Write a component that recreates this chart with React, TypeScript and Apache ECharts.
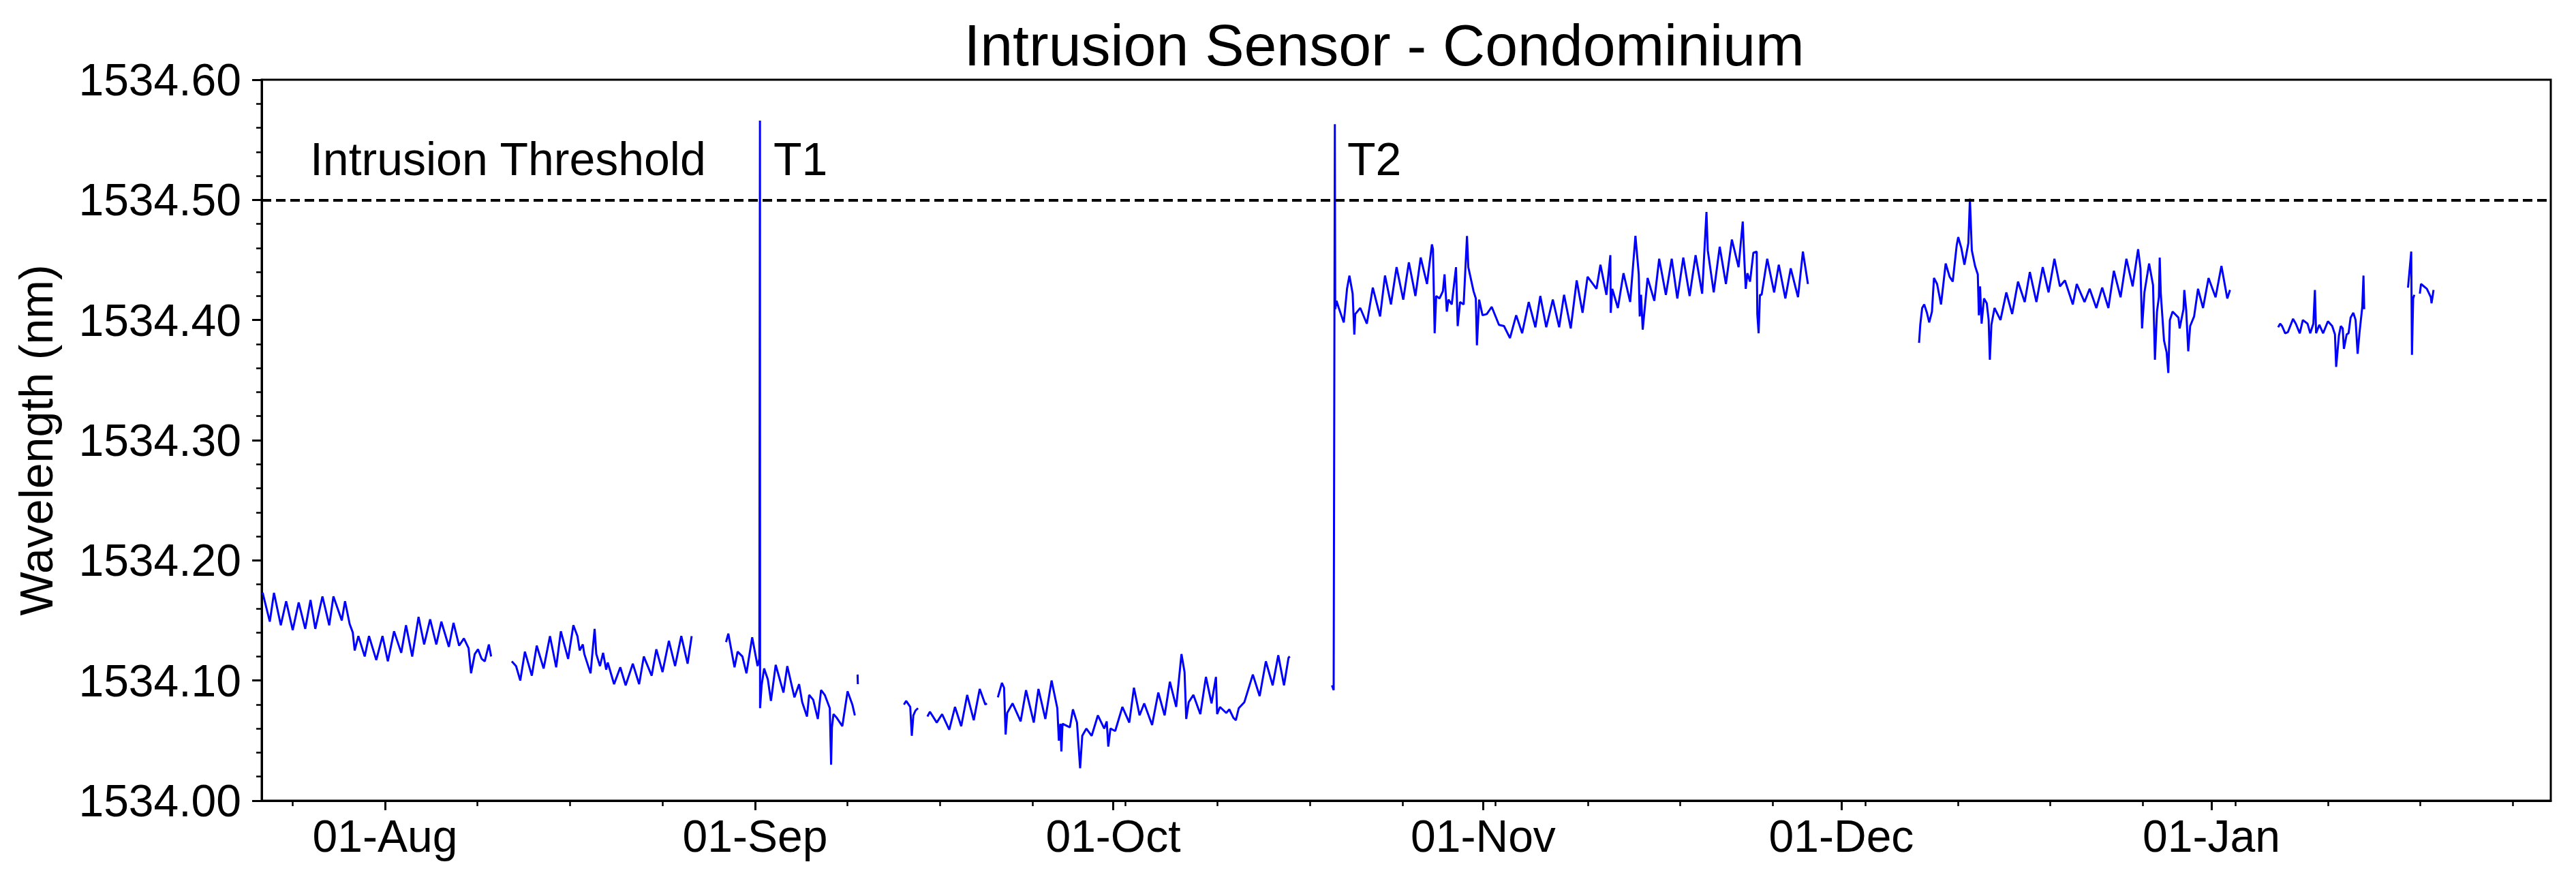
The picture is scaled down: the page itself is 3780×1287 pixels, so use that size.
import React, { useEffect, useRef } from 'react';
import * as echarts from 'echarts';

const W = 3780;
const H = 1287;
const FONT = '"Liberation Sans", Arial, Helvetica, sans-serif';

// x values: days since 01-Aug
const majorTickDays = [0, 31, 61, 92, 122, 153];
const majorTickLabels = ['01-Aug', '01-Sep', '01-Oct', '01-Nov', '01-Dec', '01-Jan'];
const minorTickStep = 7.75;
const minorTickDays = Array.from({ length: 25 }, (_, i) => -minorTickStep + i * minorTickStep);
const xMin = -10.33;
const xMax = 181.43;
const yMin = 1534.0;
const yMax = 1534.6;
const yStep = 0.1;
const threshold = 1534.5;

const titleText = 'Intrusion Sensor - Condominium';
const yAxisTitle = 'Wavelength (nm)';
const annotationLabels = ['Intrusion Threshold', 'T1', 'T2'];
const annotationDays = [-6.28, 32.54, 80.61];
const annotationValue = 1534.5206;

const segA = [
  [-10.25, 1534.173], [-9.65, 1534.149], [-9.3, 1534.173], [-8.73, 1534.146], [-8.28, 1534.166], [-7.73, 1534.142],
  [-7.23, 1534.165], [-6.68, 1534.143], [-6.24, 1534.167], [-5.84, 1534.143], [-5.24, 1534.17], [-4.67, 1534.146],
  [-4.32, 1534.17], [-3.62, 1534.15], [-3.35, 1534.166], [-2.96, 1534.147], [-2.7, 1534.14], [-2.54, 1534.125],
  [-2.23, 1534.137], [-1.7, 1534.12], [-1.34, 1534.137], [-0.73, 1534.117], [-0.21, 1534.137], [0.24, 1534.116],
  [0.76, 1534.141], [1.36, 1534.123], [1.76, 1534.146], [2.28, 1534.12], [2.81, 1534.153], [3.28, 1534.13],
  [3.78, 1534.151], [4.3, 1534.13], [4.72, 1534.149], [5.35, 1534.128], [5.74, 1534.148], [6.21, 1534.129],
  [6.61, 1534.135], [7.0, 1534.127], [7.21, 1534.106], [7.52, 1534.122], [7.79, 1534.126], [8.1, 1534.118],
  [8.36, 1534.116], [8.7, 1534.13], [8.89, 1534.12],
];
const segB = [
  [10.62, 1534.116], [10.98, 1534.112], [11.33, 1534.1], [11.72, 1534.124], [12.3, 1534.104], [12.71, 1534.129],
  [13.29, 1534.11], [13.82, 1534.137], [14.34, 1534.111], [14.73, 1534.141], [15.34, 1534.118], [15.78, 1534.146],
  [16.12, 1534.137], [16.31, 1534.125], [16.57, 1534.13], [16.7, 1534.122], [17.22, 1534.106], [17.56, 1534.143],
  [17.7, 1534.122], [18.01, 1534.112], [18.27, 1534.123], [18.53, 1534.109], [18.66, 1534.115], [19.19, 1534.097],
  [19.71, 1534.111], [20.16, 1534.096], [20.76, 1534.114], [21.29, 1534.097], [21.68, 1534.12], [22.34, 1534.104],
  [22.73, 1534.126], [23.25, 1534.107], [23.78, 1534.133], [24.3, 1534.112], [24.82, 1534.137], [25.35, 1534.114],
  [25.69, 1534.137],
];
const segC = [
  [28.57, 1534.132], [28.76, 1534.139], [29.28, 1534.111], [29.54, 1534.124], [29.94, 1534.12], [30.28, 1534.106],
  [30.76, 1534.136], [31.21, 1534.112], [31.36, 1534.118], [31.41, 1534.566], [31.42, 1534.077], [31.55, 1534.096],
  [31.76, 1534.11], [32.07, 1534.101], [32.33, 1534.083], [32.73, 1534.113], [33.38, 1534.09], [33.7, 1534.112],
  [34.3, 1534.086], [34.69, 1534.097], [34.95, 1534.082], [35.35, 1534.07], [35.53, 1534.088], [35.87, 1534.084],
  [36.26, 1534.068], [36.53, 1534.092], [36.84, 1534.088], [37.26, 1534.077], [37.37, 1534.03], [37.44, 1534.061],
  [37.57, 1534.072], [37.84, 1534.069], [38.31, 1534.062], [38.75, 1534.091], [39.15, 1534.08], [39.36, 1534.071],
];
const segC2 = [[39.59, 1534.105], [39.61, 1534.097]];
const segD = [
  [43.47, 1534.08], [43.66, 1534.083], [44.0, 1534.078], [44.13, 1534.054], [44.26, 1534.071], [44.44, 1534.075],
  [44.65, 1534.077],
];
const segE = [
  [45.44, 1534.07], [45.65, 1534.074], [46.22, 1534.065], [46.67, 1534.072], [47.27, 1534.059], [47.75, 1534.078],
  [48.27, 1534.062], [48.77, 1534.088], [49.32, 1534.067], [49.82, 1534.093], [50.29, 1534.08], [50.42, 1534.081],
];
const segF = [
  [51.34, 1534.086], [51.68, 1534.098], [51.86, 1534.094], [51.99, 1534.055], [52.12, 1534.073], [52.57, 1534.081],
  [53.25, 1534.066], [53.7, 1534.092], [54.35, 1534.065], [54.74, 1534.093], [55.32, 1534.068], [55.84, 1534.1],
  [56.32, 1534.077], [56.45, 1534.05], [56.58, 1534.064], [56.66, 1534.041], [56.76, 1534.064], [57.37, 1534.061],
  [57.63, 1534.076], [57.97, 1534.065], [58.23, 1534.027], [58.41, 1534.054], [58.75, 1534.06], [59.2, 1534.054],
  [59.72, 1534.071], [60.25, 1534.06], [60.46, 1534.066], [60.59, 1534.045], [60.77, 1534.06], [61.17, 1534.058],
  [61.77, 1534.078], [62.35, 1534.065], [62.74, 1534.094], [63.21, 1534.071], [63.6, 1534.081], [64.26, 1534.063],
  [64.78, 1534.09], [65.31, 1534.071], [65.75, 1534.099], [66.28, 1534.078], [66.72, 1534.122], [66.98, 1534.107],
  [67.12, 1534.068], [67.33, 1534.082], [67.72, 1534.088], [68.3, 1534.072], [68.77, 1534.103], [69.24, 1534.081],
  [69.61, 1534.103], [69.71, 1534.072], [69.95, 1534.078], [70.47, 1534.073], [70.73, 1534.076], [71.07, 1534.069],
  [71.28, 1534.067], [71.52, 1534.077], [71.99, 1534.082], [72.7, 1534.105], [73.27, 1534.087], [73.79, 1534.116],
  [74.36, 1534.096], [74.83, 1534.121], [75.31, 1534.096], [75.69, 1534.119], [75.8, 1534.12],
];
const segG = [
  [79.33, 1534.096], [79.47, 1534.092], [79.57, 1534.563], [79.6, 1534.409], [79.71, 1534.416], [79.9, 1534.41],
  [80.32, 1534.398], [80.59, 1534.426], [80.79, 1534.437], [81.06, 1534.422], [81.2, 1534.388], [81.28, 1534.405],
  [81.7, 1534.41], [82.25, 1534.397], [82.75, 1534.427], [83.36, 1534.403], [83.77, 1534.437], [84.27, 1534.413],
  [84.74, 1534.444], [85.3, 1534.417], [85.77, 1534.448], [86.32, 1534.42], [86.76, 1534.452], [87.29, 1534.43],
  [87.7, 1534.463], [87.79, 1534.459], [87.93, 1534.389], [88.06, 1534.42], [88.34, 1534.418], [88.62, 1534.424],
  [88.76, 1534.438], [88.95, 1534.407], [89.09, 1534.417], [89.36, 1534.413], [89.72, 1534.444], [89.86, 1534.395],
  [90.06, 1534.415], [90.36, 1534.413], [90.64, 1534.47], [90.75, 1534.444], [91.19, 1534.424], [91.38, 1534.418],
  [91.47, 1534.379], [91.66, 1534.417], [91.94, 1534.404], [92.3, 1534.405], [92.71, 1534.411], [93.32, 1534.396],
  [93.74, 1534.395], [94.24, 1534.385], [94.76, 1534.404], [95.26, 1534.389], [95.81, 1534.415], [96.37, 1534.394],
  [96.78, 1534.42], [97.28, 1534.394], [97.83, 1534.417], [98.36, 1534.394], [98.77, 1534.421], [99.33, 1534.393],
  [99.83, 1534.433], [100.32, 1534.406], [100.74, 1534.436], [101.49, 1534.426], [101.82, 1534.446], [102.32, 1534.421],
  [102.65, 1534.454], [102.68, 1534.406], [102.81, 1534.426], [103.28, 1534.41], [103.75, 1534.439], [104.31, 1534.415],
  [104.75, 1534.47], [105.03, 1534.438], [105.11, 1534.403], [105.22, 1534.421], [105.36, 1534.392], [105.77, 1534.435],
  [106.33, 1534.416], [106.74, 1534.451], [107.3, 1534.421], [107.79, 1534.451], [108.26, 1534.418], [108.76, 1534.452],
  [109.29, 1534.42], [109.79, 1534.454], [110.34, 1534.422], [110.7, 1534.49], [110.81, 1534.458], [111.31, 1534.423],
  [111.81, 1534.461], [112.33, 1534.43], [112.83, 1534.467], [113.39, 1534.444], [113.74, 1534.482], [113.85, 1534.455],
  [113.99, 1534.426], [114.13, 1534.439], [114.35, 1534.432], [114.63, 1534.456], [114.91, 1534.457], [114.96, 1534.405],
  [115.07, 1534.389], [115.18, 1534.421], [115.32, 1534.421], [115.79, 1534.451], [116.37, 1534.423], [116.76, 1534.446],
  [117.31, 1534.418], [117.76, 1534.443], [118.37, 1534.419], [118.78, 1534.457], [119.2, 1534.43],
];
const segH = [
  [128.51, 1534.381], [128.61, 1534.396], [128.77, 1534.41], [128.94, 1534.413], [129.17, 1534.406], [129.36, 1534.398],
  [129.59, 1534.407], [129.76, 1534.435], [130.02, 1534.43], [130.35, 1534.413], [130.74, 1534.447], [131.07, 1534.436],
  [131.33, 1534.432], [131.66, 1534.462], [131.79, 1534.469], [132.05, 1534.46], [132.31, 1534.446], [132.64, 1534.464],
  [132.77, 1534.501], [132.93, 1534.458], [133.2, 1534.445], [133.43, 1534.438], [133.52, 1534.404], [133.62, 1534.428],
  [133.75, 1534.397], [133.95, 1534.418], [134.18, 1534.414], [134.34, 1534.4], [134.44, 1534.367], [134.57, 1534.396],
  [134.83, 1534.41], [135.33, 1534.4], [135.82, 1534.423], [136.31, 1534.405], [136.8, 1534.432], [137.36, 1534.415],
  [137.79, 1534.44], [138.34, 1534.415], [138.87, 1534.444], [139.36, 1534.423], [139.85, 1534.451], [140.31, 1534.428],
  [140.73, 1534.433], [141.39, 1534.413], [141.72, 1534.43], [142.37, 1534.415], [142.8, 1534.426], [143.36, 1534.41],
  [143.85, 1534.427], [144.37, 1534.41], [144.83, 1534.441], [145.39, 1534.419], [145.88, 1534.451], [146.4, 1534.428],
  [146.86, 1534.459], [147.06, 1534.443], [147.19, 1534.393], [147.39, 1534.423], [147.78, 1534.447], [148.11, 1534.429],
  [148.27, 1534.367], [148.44, 1534.407], [148.6, 1534.419], [148.67, 1534.452], [148.76, 1534.422], [149.03, 1534.383],
  [149.25, 1534.373], [149.39, 1534.356], [149.52, 1534.4], [149.75, 1534.407], [150.24, 1534.402], [150.34, 1534.393],
  [150.66, 1534.409], [150.73, 1534.425], [150.89, 1534.408], [151.06, 1534.374], [151.22, 1534.395], [151.55, 1534.403],
  [151.88, 1534.426], [152.3, 1534.41], [152.76, 1534.435], [153.35, 1534.419], [153.84, 1534.445], [154.33, 1534.418],
  [154.56, 1534.425],
];
const segI = [
  [158.59, 1534.394], [158.76, 1534.397], [158.92, 1534.395], [159.18, 1534.389], [159.41, 1534.39], [159.84, 1534.401],
  [160.07, 1534.397], [160.4, 1534.389], [160.66, 1534.4], [161.05, 1534.397], [161.28, 1534.389], [161.54, 1534.397],
  [161.67, 1534.425], [161.77, 1534.389], [162.04, 1534.396], [162.36, 1534.389], [162.76, 1534.399], [163.12, 1534.395],
  [163.35, 1534.388], [163.45, 1534.361], [163.68, 1534.387], [163.84, 1534.395], [164.0, 1534.393], [164.1, 1534.376],
  [164.33, 1534.388], [164.49, 1534.389], [164.66, 1534.402], [164.89, 1534.406], [165.08, 1534.4], [165.25, 1534.372],
  [165.41, 1534.39], [165.64, 1534.411], [165.74, 1534.437], [165.8, 1534.409],
];
const segJ1 = [
  [169.47, 1534.427], [169.74, 1534.457], [169.8, 1534.371], [169.9, 1534.418], [170.0, 1534.421],
];
const segJ2 = [
  [170.46, 1534.422], [170.56, 1534.43], [171.05, 1534.426], [171.38, 1534.419], [171.44, 1534.414], [171.61, 1534.425],
];

const segments = [segA, segB, segC, segC2, segD, segE, segF, segG, segH, segI, segJ1, segJ2];

export default function App() {
  const ref = useRef<HTMLDivElement>(null);

  useEffect(() => {
    if (!ref.current) return;
    const chart = echarts.init(ref.current, undefined, { renderer: 'svg', width: W, height: H });
    const grid = { left: 384, right: W - 3743, top: 117, bottom: H - 1175 };

    const lineSeries: any[] = segments.map((seg) => ({
      type: 'line',
      name: 'wavelength',
      data: seg,
      showSymbol: false,
      symbol: 'none',
      lineStyle: { color: '#0000ff', width: 3 },
      z: 2,
      silent: true,
    }));
    lineSeries.push({
      type: 'line',
      name: 'threshold',
      data: [],
      silent: true,
      markLine: {
        silent: true,
        symbol: 'none',
        label: { show: false },
        lineStyle: { color: '#000', width: 4, type: [14, 7] },
        data: [{ yAxis: threshold }],
        z: 5,
      },
    });

    const option: any = {
      animation: false,
      backgroundColor: '#fff',
      grid: {
        ...grid,
        show: true,
        borderColor: '#000',
        borderWidth: 3,
        backgroundColor: 'transparent',
        containLabel: false,
        outerBoundsMode: 'none',
      },
      xAxis: [
        {
          type: 'value',
          min: xMin,
          max: xMax,
          position: 'bottom',
          axisLine: { show: true, onZero: false, lineStyle: { color: '#000', width: 3 } },
          axisTick: { show: true, customValues: majorTickDays, length: 14, lineStyle: { color: '#000', width: 3 } },
          axisLabel: {
            show: true,
            customValues: majorTickDays,
            margin: 19,
            fontSize: 66,
            fontFamily: FONT,
            color: '#000',
            formatter: (v: number) => {
              const i = majorTickDays.findIndex((d) => Math.abs(d - v) < 1e-6);
              return i >= 0 ? majorTickLabels[i] : '';
            },
          },
          splitLine: { show: false },
        },
        {
          type: 'value',
          min: xMin,
          max: xMax,
          position: 'bottom',
          axisLine: { show: false, onZero: false },
          axisTick: { show: true, customValues: minorTickDays, length: 8, lineStyle: { color: '#000', width: 2.5 } },
          axisLabel: { show: false },
          splitLine: { show: false },
        },
      ],
      yAxis: {
        type: 'value',
        min: yMin,
        max: yMax,
        interval: yStep,
        axisLine: { show: true, onZero: false, lineStyle: { color: '#000', width: 3 } },
        axisTick: { show: true, length: 14, lineStyle: { color: '#000', width: 3 } },
        minorTick: { show: true, splitNumber: 5, length: 8, lineStyle: { color: '#000', width: 2.5 } },
        axisLabel: {
          margin: 30,
          fontSize: 66,
          fontFamily: FONT,
          color: '#000',
          formatter: (v: number) => v.toFixed(2),
        },
        splitLine: { show: false },
        minorSplitLine: { show: false },
      },
      series: lineSeries,
    };
    chart.setOption(option);

    const annotationGraphics = annotationLabels.map((label, i) => {
      const p = chart.convertToPixel({ xAxisIndex: 0, yAxisIndex: 0 }, [annotationDays[i], annotationValue]) as number[];
      return {
        type: 'text',
        x: p[0],
        y: p[1] - 24,
        silent: true,
        style: {
          text: label,
          fontSize: 68,
          fontFamily: FONT,
          fill: '#000',
          textAlign: 'left',
          textVerticalAlign: 'middle',
        },
        z: 10,
      };
    });

    chart.setOption({
      graphic: [
        {
          type: 'text',
          x: 2031,
          y: 66,
          silent: true,
          style: {
            text: titleText,
            fontSize: 86,
            fontFamily: FONT,
            fill: '#000',
            textAlign: 'center',
            textVerticalAlign: 'middle',
          },
        },
        {
          type: 'text',
          x: 53,
          y: 646,
          rotation: Math.PI / 2,
          silent: true,
          style: {
            text: yAxisTitle,
            fontSize: 68,
            fontFamily: FONT,
            fill: '#000',
            textAlign: 'center',
            textVerticalAlign: 'middle',
          },
        },
        ...annotationGraphics,
      ],
    });

    return () => {
      chart.dispose();
    };
  }, []);

  return (
    <div
      ref={ref}
      style={{ position: 'absolute', left: 0, top: 0, width: W, height: H, background: '#fff' }}
    />
  );
}
